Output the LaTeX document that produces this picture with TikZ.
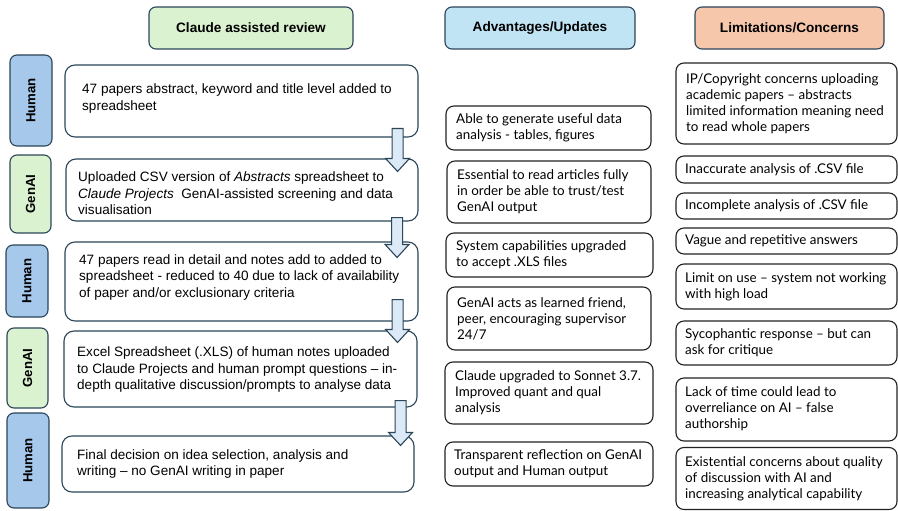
\documentclass[tikz,border=0pt]{standalone}
\usepackage{fontspec}
\usetikzlibrary{calc}
\setmainfont{Liberation Sans}
\newfontfamily\sidefont[Ligatures=TeX]{Lato}
\definecolor{bordc}{HTML}{2B4559}
\definecolor{sidec}{HTML}{222222}
\definecolor{greenf}{HTML}{DAF2D0}
\definecolor{bluef}{HTML}{C1E4F5}
\definecolor{peachf}{HTML}{F7C7AC}
\definecolor{humanf}{HTML}{A6C8EB}
\definecolor{arrowf}{HTML}{DCE9F6}
\begin{document}
\begin{tikzpicture}[x=1pt,y=-1pt,
  hdr/.style={draw=bordc, line width=1.1pt, rounded corners=7pt, inner sep=0pt,
    font=\bfseries\fontsize{13.6}{15}\selectfont},
  lab/.style={draw=bordc, line width=1.1pt, rounded corners=7pt, inner sep=0pt, rotate=90,
    font=\bfseries\fontsize{13.2}{14}\selectfont},
  mainbox/.style={draw=bordc, line width=1.1pt, rounded corners=10pt, inner sep=0pt},
  sidebox/.style={draw=sidec, line width=1.1pt, rounded corners=8pt, inner sep=0pt},
  maintxt/.style={anchor=west, align=left, inner sep=0pt, font=\fontsize{13.55}{16.5}\selectfont},
  sidetxt/.style={anchor=west, align=left, inner sep=0pt, font=\sidefont\fontsize{13.4}{16}\selectfont},
  flow/.style={draw=bordc, fill=arrowf, line width=1.1pt, line join=miter}
]
\useasboundingbox (0,0) rectangle (898,511);

% headers
\node[hdr, fill=greenf, minimum width=204pt, minimum height=42pt] (h1) at (251,28) {Claude assisted review};
\node[hdr, fill=bluef, minimum width=190pt, minimum height=42pt] (h2) at (540,28) {Advantages/Updates};
\node[hdr, fill=peachf, minimum width=189pt, minimum height=42pt] (h3) at (789.5,28) {Limitations/Concerns};

% side labels
\node[lab, fill=humanf, minimum width=91pt, minimum height=42pt] (l1) at (31,100.5) {Human};
\node[lab, fill=greenf, minimum width=78pt, minimum height=41pt] (l2) at (30.5,194) {GenAI};
\node[lab, fill=humanf, minimum width=72pt, minimum height=42pt] (l3) at (27,281) {Human};
\node[lab, fill=greenf, minimum width=80pt, minimum height=41pt] (l4) at (27.5,368) {GenAI};
\node[lab, fill=humanf, minimum width=95pt, minimum height=42pt] (l5) at (28,460.5) {Human};

% main boxes
\node[mainbox, minimum width=353pt, minimum height=72pt] (b1) at (241.5,101) {};
\node[mainbox, minimum width=352pt, minimum height=62pt] (b2) at (242,190) {};
\node[mainbox, minimum width=353pt, minimum height=79pt] (b3) at (241.5,281.5) {};
\node[mainbox, minimum width=353pt, minimum height=76pt] (b4) at (240.5,369) {};
\node[mainbox, minimum width=352pt, minimum height=56pt] (b5) at (238,464) {};

\node[maintxt] (t1) at (82,98.5) {47 papers abstract, keyword and title level added to\\spreadsheet};
\node[maintxt] (t2) at (78,193.5) {Uploaded CSV version of \textit{Abstracts} spreadsheet to\\\textit{Claude Projects}\ \ GenAI-assisted screening and data\\visualisation};
\node[maintxt] (t3) at (79,277) {47 papers read in detail and notes add to added to\\spreadsheet - reduced to 40 due to lack of availability\\of paper and/or exclusionary criteria};
\node[maintxt] (t4) at (77,369.5) {Excel Spreadsheet (.XLS) of human notes uploaded\\to Claude Projects and human prompt questions -- in-\\depth qualitative discussion/prompts to analyse data};
\node[maintxt] (t5) at (77,464) {Final decision on idea selection, analysis and\\writing -- no GenAI writing in paper};

% flow arrows: source/target/dx/top/headstart
\foreach \s/\e/\dx/\tp/\hs in {b1/b2/-21/9/0, b2/b3/-21.5/4/3, b3/b4/-21/22/-1, b4/b5/-17/7/-3}{
  \draw[flow] let \p1=(\s.south east), \p2=(\e.north east), \n1={\x1+\dx*1pt} in
    (\n1-5.5pt,\y1+\tp*1pt) -- (\n1+5.5pt,\y1+\tp*1pt)
    -- (\n1+5.5pt,\y2-\hs*1pt) -- (\n1+12pt,\y2-\hs*1pt)
    -- (\n1,\y2-\hs*1pt-13pt) -- (\n1-12pt,\y2-\hs*1pt)
    -- (\n1-5.5pt,\y2-\hs*1pt) -- cycle;
}

% advantages
\node[sidebox, minimum width=205pt, minimum height=44pt] (a1) at (548.5,128) {};
\node[sidebox, minimum width=204pt, minimum height=62pt] (a2) at (549,192) {};
\node[sidebox, minimum width=207pt, minimum height=44pt] (a3) at (549.5,255) {};
\node[sidebox, minimum width=204pt, minimum height=63pt] (a4) at (549,318.5) {};
\node[sidebox, minimum width=208pt, minimum height=62pt] (a5) at (549,393) {};
\node[sidebox, minimum width=208pt, minimum height=44pt] (a6) at (549,464) {};

\node[sidetxt] (ta1) at (456,128) {Able to generate useful data\\analysis - tables, figures};
\node[sidetxt] (ta2) at (457,191.5) {Essential to read articles fully\\in order be able to trust/test\\GenAI output};
\node[sidetxt] (ta3) at (456,255) {System capabilities upgraded\\to accept .XLS files};
\node[sidetxt] (ta4) at (457,319) {GenAI acts as learned friend,\\peer, encouraging supervisor\\24/7};
\node[sidetxt] (ta5) at (455,393) {Claude upgraded to Sonnet 3.7.\\Improved quant and qual\\analysis};
\node[sidetxt] (ta6) at (454,464) {Transparent reflection on GenAI\\output and Human output};

% limitations
\node[sidebox, minimum width=221pt, minimum height=81pt] (c1) at (786.5,103.5) {};
\node[sidebox, minimum width=221pt, minimum height=27pt] (c2) at (786.5,169.5) {};
\node[sidebox, minimum width=221pt, minimum height=26pt] (c3) at (786.5,206) {};
\node[sidebox, minimum width=221pt, minimum height=26pt] (c4) at (786.5,241) {};
\node[sidebox, minimum width=221pt, minimum height=45pt] (c5) at (786.5,286.5) {};
\node[sidebox, minimum width=221pt, minimum height=44pt] (c6) at (786.5,343) {};
\node[sidebox, minimum width=221pt, minimum height=63pt] (c7) at (786.5,409.5) {};
\node[sidebox, minimum width=221pt, minimum height=62pt] (c8) at (786.5,478.5) {};

\node[sidetxt] (tc1) at (686,104) {IP/Copyright concerns uploading\\academic papers -- abstracts\\limited information meaning need\\to read whole papers};
\node[sidetxt] (tc2) at (685,169.5) {Inaccurate analysis of .CSV file};
\node[sidetxt] (tc3) at (685,206) {Incomplete analysis of .CSV file};
\node[sidetxt] (tc4) at (685,240.5) {Vague and repetitive answers};
\node[sidetxt] (tc5) at (685,287) {Limit on use -- system not working\\with high load};
\node[sidetxt] (tc6) at (685,343) {Sycophantic response -- but can\\ask for critique};
\node[sidetxt] (tc7) at (685,408.5) {Lack of time could lead to\\overreliance on AI -- false\\authorship};
\node[sidetxt] (tc8) at (685,478.5) {Existential concerns about quality\\of discussion with AI and\\increasing analytical capability};
\end{tikzpicture}
\end{document}
